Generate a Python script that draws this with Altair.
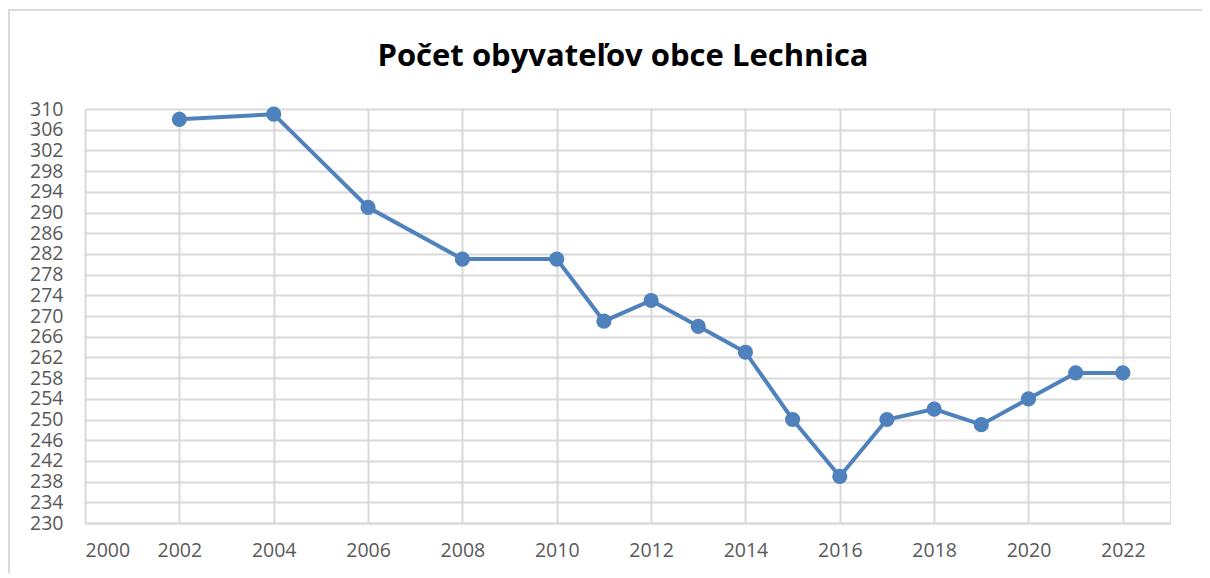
import altair as alt
import pandas as pd

years = [2002, 2004, 2006, 2008, 2010, 2011, 2012, 2013, 2014, 2015, 2016,
         2017, 2018, 2019, 2020, 2021, 2022]
population = [308, 309, 291, 281, 281, 269, 273, 268, 263, 250, 239,
              250, 252, 249, 254, 259, 259]
title_text = "Počet obyvateľov obce Lechnica"

df = pd.DataFrame({"rok": years, "obyvatelia": population})

W, H = 1085, 414
PL, PT = 77, 101

frame = alt.Chart(pd.DataFrame({"a": [0]})).mark_rect(
    fill=None, stroke="#d9d9d9", strokeWidth=2
).encode(
    x=alt.value(-PL + 1), x2=alt.value(W + 80),
    y=alt.value(-PT + 2), y2=alt.value(H + 100),
)

title = alt.Chart(pd.DataFrame({"t": [title_text]})).mark_text(
    font="Open Sans", fontWeight="bold", fontSize=31, color="#000000",
    align="center", baseline="middle"
).encode(
    x=alt.value(538), y=alt.value(-52), text="t:N"
)

x_scale = alt.Scale(domain=[2000, 2023], nice=False, zero=False)
y_scale = alt.Scale(domain=[230, 310], nice=False, zero=False)

x_enc = alt.X("rok:Q", scale=x_scale,
              axis=alt.Axis(values=list(range(2000, 2023, 2)), format="d", title=None,
                            tickCount=30,
                            labelFont="Open Sans", labelFontSize=19.5, labelColor="#595959",
                            labelPadding=18, ticks=False, domainColor="#d9d9d9",
                            domainWidth=2, gridColor="#d9d9d9", gridWidth=2,
                            labelOverlap=False))
y_enc = alt.Y("obyvatelia:Q", scale=y_scale,
              axis=alt.Axis(values=list(range(230, 311, 4)), title=None,
                            tickCount=30,
                            labelFont="Open Sans", labelFontSize=19.5, labelColor="#595959",
                            labelPadding=22, ticks=False, domain=False,
                            gridColor="#d9d9d9", gridWidth=2,
                            labelOverlap=False, labelBaseline="middle"))

line = alt.Chart(df).mark_line(color="#4f81bd", strokeWidth=4).encode(x=x_enc, y=y_enc)
points = alt.Chart(df).mark_circle(color="#4f81bd", opacity=1, size=230).encode(
    x="rok:Q", y="obyvatelia:Q")

chart = alt.layer(frame, line, points, title).properties(
    width=W, height=H,
    autosize=alt.AutoSizeParams(type="none"),
    padding={"left": PL, "top": PT, "right": 32, "bottom": 50},
).configure_view(stroke=None).configure(background="white")

chart.save("out.html", embed_options={"renderer": "svg", "actions": False})
